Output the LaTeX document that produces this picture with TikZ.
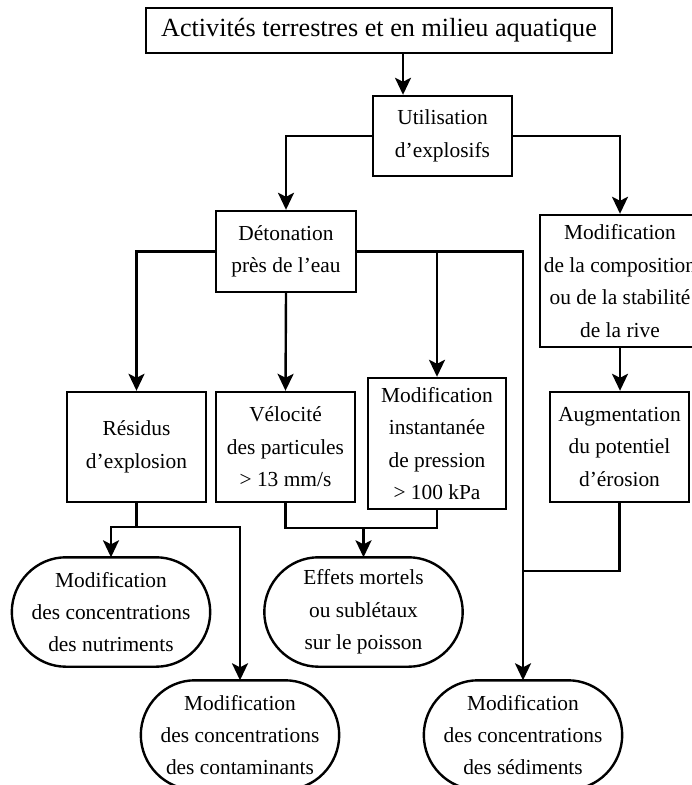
\documentclass[tikz,border=0pt]{standalone}
\usepackage{fontspec}
\setmainfont{Liberation Serif}
\usetikzlibrary{arrows.meta}

\tikzset{
  box/.style={draw, line width=1.2pt, align=center, inner sep=0pt, font=\fontsize{10.7}{16.2}\selectfont},
  oval/.style={align=center, inner sep=0pt, minimum width=98pt, minimum height=53.5pt,
    font=\fontsize{10.7}{16.2}\selectfont,
    append after command={\pgfextra{\draw (\tikzlastnode.west)
      .. controls +(0,14.8pt) and +(-14.9pt,0) .. ([xshift=27pt]\tikzlastnode.north west)
      -- ([xshift=-27pt]\tikzlastnode.north east)
      .. controls +(14.9pt,0) and +(0,14.8pt) .. (\tikzlastnode.east)
      .. controls +(0,-14.8pt) and +(14.9pt,0) .. ([xshift=-27pt]\tikzlastnode.south east)
      -- ([xshift=27pt]\tikzlastnode.south west)
      .. controls +(-14.9pt,0) and +(0,-14.8pt) .. (\tikzlastnode.west) -- cycle;}}},
  arr/.style={-{Stealth[length=8.5pt,width=8pt,inset=2pt]}}
}

\begin{document}
\begin{tikzpicture}[x=0.5pt, y=-0.5pt, line width=1.2pt]
\useasboundingbox (0,0) rectangle (691,785);

% Draw the boxes
\node[box, minimum width=233pt, minimum height=22.5pt, font=\fontsize{13.1}{16}\selectfont] (act) at (379,30.5) {Activités terrestres et en milieu aquatique};
\node[box, minimum width=69.5pt, minimum height=40pt] (util) at (442.5,136) {Utilisation\\d’explosifs};
\node[box, minimum width=70pt, minimum height=40.5pt] (deto) at (286,251.5) {Détonation\\près de l’eau};
\node[box, minimum width=80pt, minimum height=66pt] (compo) at (620,281) {Modification\\de la composition\\ou de la stabilité\\de la rive};
\node[box, minimum width=69.5pt, minimum height=55pt] (resid) at (136.5,447) {Résidus\\d’explosion};
\node[box, minimum width=69.5pt, minimum height=55pt] (velo) at (285.5,447) {Vélocité\\des particules\\> 13 mm/s};
\node[box, minimum width=69pt, minimum height=65.5pt] (inst) at (437,443.5) {Modification\\instantanée\\de pression\\> 100 kPa};
\node[box, minimum width=69.5pt, minimum height=55pt] (augm) at (619.5,447) {Augmentation\\du potentiel\\d’érosion};

% The ovals at the bottom
\node[oval] (nutr) at (111,612) {Modification\\des concentrations\\des nutriments};
\node[oval] (effets) at (363.5,612) {Effets mortels\\ou sublétaux\\sur le poisson};
\node[oval] (conta) at (240,735) {Modification\\des concentrations\\des contaminants};
\node[oval] (sedim) at (523,735) {Modification\\des concentrations\\des sédiments};

% Connectors
\coordinate (a1) at (403,0);
\coordinate (r1) at (136.5,527);
\coordinate (p1) at (363.5,528);
\coordinate (s1) at (523,571);
\draw[arr] (act.south -| a1) -- (util.north -| a1);
\draw[arr] (util.west) -| (deto.north);
\draw[arr] (util.east) -| (compo.north);
\draw[arr] (deto.west) -| (resid.north);
\draw[arr] (deto.south) -- (velo.north);
\draw[arr] (deto.east) -| (inst.north);
\draw[arr] (deto.east) -| (sedim.north);
\draw[arr] (compo.south) -- (compo.south |- augm.north);
\draw[arr] (resid.south) -- (r1) -| (nutr.north);
\draw[arr] (r1) -| (conta.north);
\draw (velo.south) |- (p1) -| (inst.south);
\draw[arr] (p1) -- (effets.north);
\draw (augm.south) |- (s1);
\end{tikzpicture}
\end{document}
